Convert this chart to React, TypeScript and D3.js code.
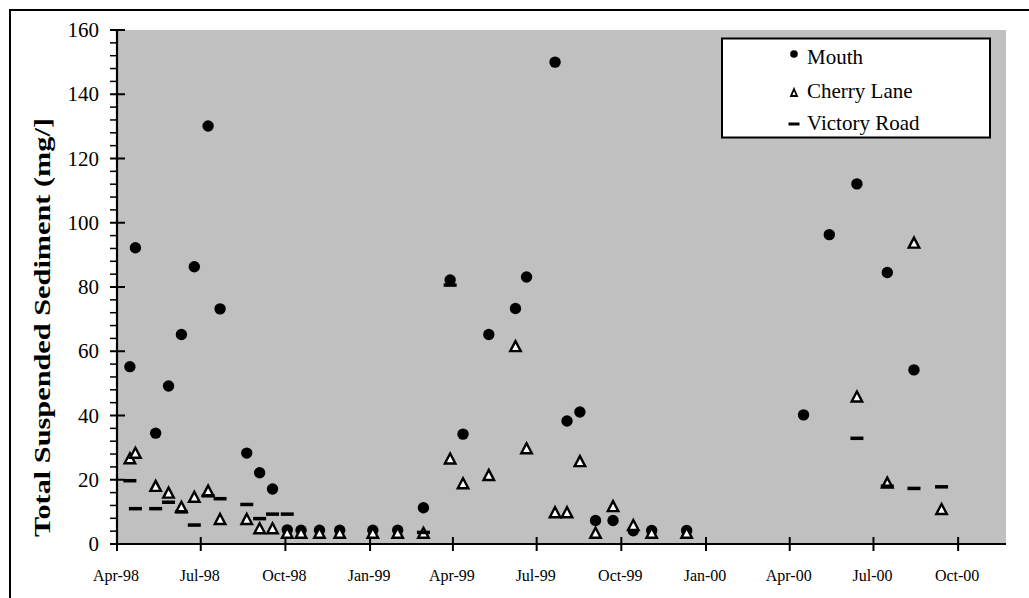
import React, { useRef, useEffect } from 'react';
import * as d3 from 'd3';

// sample dates and concentrations (mg/l)
const mouthDates = ['1998-04-15', '1998-04-21', '1998-05-13', '1998-05-27', '1998-06-10', '1998-06-24', '1998-07-09', '1998-07-22', '1998-08-20', '1998-09-03', '1998-09-17', '1998-10-03', '1998-10-18', '1998-11-07', '1998-11-29', '1999-01-04', '1999-01-31', '1999-02-28', '1999-03-29', '1999-04-12', '1999-05-10', '1999-06-08', '1999-06-20', '1999-07-21', '1999-08-03', '1999-08-17', '1999-09-03', '1999-09-22', '1999-10-14', '1999-11-03', '1999-12-11', '2000-04-16', '2000-05-14', '2000-06-13', '2000-07-16', '2000-08-14'];
const mouthValues = [55.2, 92.2, 34.5, 49.2, 65.2, 86.3, 130.1, 73.2, 28.3, 22.2, 17.1, 4.4, 4.3, 4.3, 4.3, 4.3, 4.3, 11.3, 82.2, 34.2, 65.2, 73.3, 83.1, 150, 38.3, 41.1, 7.3, 7.3, 4.1, 4.2, 4.2, 40.2, 96.3, 112.1, 84.5, 54.2];

const cherryDates = ['1998-04-15', '1998-04-21', '1998-05-13', '1998-05-27', '1998-06-10', '1998-06-24', '1998-07-09', '1998-07-22', '1998-08-20', '1998-09-03', '1998-09-17', '1998-10-03', '1998-10-18', '1998-11-07', '1998-11-29', '1999-01-04', '1999-01-31', '1999-02-28', '1999-03-29', '1999-04-12', '1999-05-10', '1999-06-08', '1999-06-20', '1999-07-21', '1999-08-03', '1999-08-17', '1999-09-03', '1999-09-22', '1999-10-14', '1999-11-03', '1999-12-11', '2000-06-13', '2000-07-16', '2000-08-14', '2000-09-13'];
const cherryValues = [26.7, 28.4, 18.1, 16.0, 11.6, 14.7, 16.6, 7.8, 7.8, 4.9, 4.9, 3.5, 3.5, 3.5, 3.5, 3.5, 3.5, 3.5, 26.6, 18.9, 21.5, 61.6, 29.8, 9.9, 9.9, 25.8, 3.5, 11.8, 5.9, 3.5, 3.5, 45.9, 19.1, 93.8, 10.9];

const victoryDates = ['1998-04-15', '1998-04-21', '1998-05-13', '1998-05-27', '1998-06-10', '1998-06-24', '1998-07-09', '1998-07-22', '1998-08-20', '1998-09-03', '1998-09-17', '1998-10-03', '1999-02-28', '1999-03-29', '2000-06-13', '2000-07-16', '2000-08-14', '2000-09-13'];
const victoryValues = [19.7, 11.0, 11.0, 13.0, 10.0, 5.9, 15.0, 14.1, 12.3, 7.9, 9.3, 9.3, 3.6, 80.6, 32.9, 18.0, 17.3, 17.8];

const seriesNames = ['Mouth', 'Cherry Lane', 'Victory Road'];
const yTicks = [0, 20, 40, 60, 80, 100, 120, 140, 160];
const xTickDates = ['1998-04-01', '1998-07-01', '1998-10-01', '1999-01-01', '1999-04-01', '1999-07-01', '1999-10-01', '2000-01-01', '2000-04-01', '2000-07-01', '2000-10-01'];
const yTitle = 'Total Suspended Sediment (mg/]';

const FONT = "'Liberation Serif', 'Times New Roman', serif";

const triPath = (w: number, h: number) =>
  `M0,${-h / 2}L${w / 2},${h / 2}L${-w / 2},${h / 2}Z`;

const App = () => {
  const svgRef = useRef<SVGSVGElement>(null);

  useEffect(() => {
    const svg = d3.select(svgRef.current);
    svg.selectAll('*').remove();

    const parse = d3.utcParse('%Y-%m-%d');
    const fmt = d3.utcFormat('%b-%y');

    const left = 117, right = 1006, top = 30, bottom = 544;

    const x = d3.scaleUtc()
      .domain([parse('1998-04-01')!, parse('2000-11-22')!])
      .range([left, right]);
    const y = d3.scaleLinear().domain([0, 160]).range([bottom, top]);

    // outer frame (cropped: only top and left edges visible)
    svg.append('path')
      .attr('d', `M10,598V10H1029`)
      .attr('fill', 'none')
      .attr('stroke', '#000')
      .attr('stroke-width', 2);

    // plot area
    svg.append('rect')
      .attr('x', left).attr('y', top)
      .attr('width', right - left).attr('height', bottom - top)
      .attr('fill', '#c0c0c0');

    // y minor ticks
    const minor = d3.range(0, 161, 4).filter(v => v % 20 !== 0);
    svg.append('g').selectAll('line').data(minor).enter().append('line')
      .attr('x1', left - 7).attr('x2', left)
      .attr('y1', d => y(d)).attr('y2', d => y(d))
      .attr('stroke', '#000').attr('stroke-width', 1.5);

    // y major ticks + labels
    const yAxis = svg.append('g');
    yAxis.selectAll('line').data(yTicks).enter().append('line')
      .attr('x1', left - 7).attr('x2', left + 8)
      .attr('y1', d => y(d)).attr('y2', d => y(d))
      .attr('stroke', '#000').attr('stroke-width', 2);
    yAxis.selectAll('text').data(yTicks).enter().append('text')
      .attr('x', 99).attr('y', d => y(d))
      .attr('dy', '0.34em')
      .attr('text-anchor', 'end')
      .style('font-family', FONT).style('font-size', '21px')
      .text(d => d);

    // x ticks + labels
    const xAxis = svg.append('g');
    xAxis.selectAll('line').data(xTickDates).enter().append('line')
      .attr('x1', d => x(parse(d)!)).attr('x2', d => x(parse(d)!))
      .attr('y1', bottom - 7).attr('y2', bottom + 7)
      .attr('stroke', '#000').attr('stroke-width', 2);
    xAxis.selectAll('text').data(xTickDates).enter().append('text')
      .attr('x', d => x(parse(d)!) - 1).attr('y', 581)
      .attr('text-anchor', 'middle')
      .style('font-family', FONT).style('font-size', '16px')
      .text(d => fmt(parse(d)!));

    // axis lines
    svg.append('line')
      .attr('x1', left).attr('x2', left).attr('y1', top).attr('y2', bottom + 1)
      .attr('stroke', '#000').attr('stroke-width', 2.2);
    svg.append('line')
      .attr('x1', left).attr('x2', right).attr('y1', bottom).attr('y2', bottom)
      .attr('stroke', '#000').attr('stroke-width', 2.2);

    // y title
    svg.append('text')
      .attr('transform', `translate(50,${327.5})rotate(-90)`)
      .attr('text-anchor', 'middle')
      .attr('textLength', 419)
      .attr('lengthAdjust', 'spacingAndGlyphs')
      .style('font-family', FONT).style('font-size', '24px').style('font-weight', 'bold')
      .text(yTitle);

    // Mouth
    svg.append('g').selectAll('circle').data(mouthDates).enter().append('circle')
      .attr('cx', d => x(parse(d)!))
      .attr('cy', (d, i) => y(mouthValues[i]))
      .attr('r', 5.7)
      .attr('fill', '#000');

    // Cherry Lane
    svg.append('g').selectAll('path').data(cherryDates).enter().append('path')
      .attr('d', triPath(10.5, 10))
      .attr('transform', (d, i) => `translate(${x(parse(d)!)},${y(cherryValues[i])})`)
      .attr('fill', '#fff')
      .attr('stroke', '#000')
      .attr('stroke-width', 2.4)
      .attr('stroke-linejoin', 'miter');

    // Victory Road
    svg.append('g').selectAll('rect').data(victoryDates).enter().append('rect')
      .attr('x', d => x(parse(d)!) - 6.5)
      .attr('y', (d, i) => y(victoryValues[i]) - 1.75)
      .attr('width', 13).attr('height', 3.5)
      .attr('fill', '#000');

    // legend
    const lg = svg.append('g');
    lg.append('rect')
      .attr('x', 722).attr('y', 38.5).attr('width', 268).attr('height', 99)
      .attr('fill', '#fff').attr('stroke', '#000').attr('stroke-width', 2);
    const rows = [64, 98, 130];
    lg.selectAll('text').data(seriesNames).enter().append('text')
      .attr('x', 807).attr('y', (d, i) => rows[i])
      .style('font-family', FONT).style('font-size', '21px')
      .text(d => d);
    lg.append('circle').attr('cx', 794).attr('cy', 54).attr('r', 3.8).attr('fill', '#000');
    lg.append('path')
      .attr('d', triPath(6, 7))
      .attr('transform', 'translate(794,92.5)')
      .attr('fill', '#fff').attr('stroke', '#000').attr('stroke-width', 1.8);
    lg.append('rect').attr('x', 788.5).attr('y', 122.5).attr('width', 11).attr('height', 3).attr('fill', '#000');
  }, []);

  return (
    <svg
      ref={svgRef}
      width={1029}
      height={598}
      style={{ position: 'absolute', left: 0, top: 0, background: '#fff' }}
    />
  );
};

export default App;
